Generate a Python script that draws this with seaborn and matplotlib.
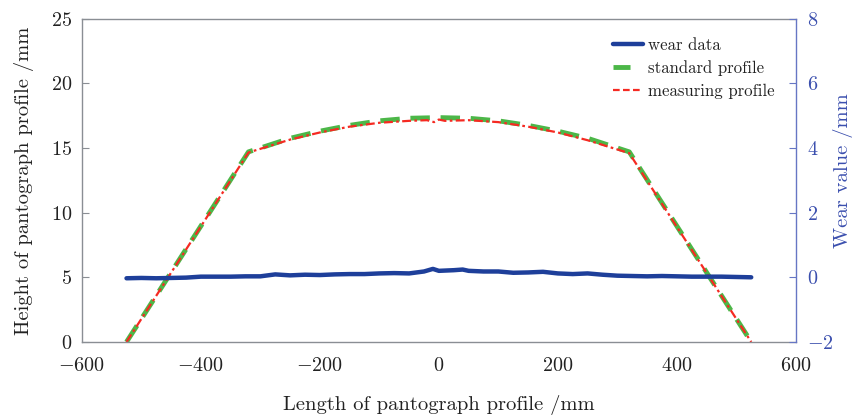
import numpy as np
import pandas as pd
import matplotlib
matplotlib.use("Agg")
import matplotlib.pyplot as plt
import seaborn as sns
from matplotlib.lines import Line2D

# ---- data ----
std_x = [-525, -320, -250, -200, -150, -100, -50, 0, 50, 100, 150, 200, 250, 320, 525]
std_h = [0, 14.7, 15.75, 16.3, 16.75, 17.1, 17.3, 17.35, 17.3, 17.1, 16.75, 16.3, 15.75, 14.7, 0]

meas_x = [-525, -320, -250, -200, -150, -100, -50, -20, -8, 0, 10, 50, 100, 150, 200, 250, 320, 525]
meas_h = [0, 14.65, 15.65, 16.2, 16.65, 16.95, 17.1, 17.15, 17.0, 17.2, 17.1, 17.15, 17.0, 16.65, 16.2, 15.6, 14.6, 0]

wear_x = [-525, -500, -475, -450, -425, -400, -375, -350, -325, -300, -275, -250, -225, -200,
          -175, -150, -125, -100, -75, -50, -25, -10, 0, 25, 40, 50, 75, 100, 125, 150, 175,
          200, 225, 250, 275, 300, 325, 350, 375, 400, 425, 450, 475, 500, 525]
wear_v = [-0.03, -0.02, -0.03, -0.02, -0.01, 0.02, 0.02, 0.02, 0.03, 0.03, 0.09, 0.06, 0.08, 0.07,
          0.09, 0.10, 0.10, 0.12, 0.13, 0.12, 0.18, 0.26, 0.20, 0.22, 0.24, 0.20, 0.18, 0.18, 0.14,
          0.15, 0.17, 0.12, 0.10, 0.12, 0.08, 0.05, 0.04, 0.03, 0.04, 0.03, 0.02, 0.02, 0.02, 0.01, 0.00]

x_ticks = [-600, -400, -200, 0, 200, 400, 600]
left_ticks = [0, 5, 10, 15, 20, 25]
right_ticks = [-2, 0, 2, 4, 6, 8]

# ---- style ----
sns.set_style("white")
plt.rcParams["font.family"] = ["cmr10", "DejaVu Serif"]
plt.rcParams["mathtext.fontset"] = "cm"
plt.rcParams["axes.formatter.use_mathtext"] = True
plt.rcParams["axes.unicode_minus"] = True

BLUE = "#1e3f9a"
AXBLUE = "#3b4fae"
SPBLUE = "#6676c4"
GREEN = "#4cb748"
RED = "#f52a22"
GREY = "#8a8e94"
TXT = "#222222"

fig = plt.figure(figsize=(8.53, 4.15), dpi=100)
ax = fig.add_axes([0.096, 0.176, 0.837, 0.779])
ax2 = ax.twinx()

df_std = pd.DataFrame({"x": std_x, "h": std_h})
df_meas = pd.DataFrame({"x": meas_x, "h": meas_h})
df_wear = pd.DataFrame({"x": wear_x, "v": wear_v})

sns.lineplot(data=df_wear, x="x", y="v", ax=ax2, color=BLUE, lw=3.2, sort=False,
             estimator=None, legend=False)
sns.lineplot(data=df_std, x="x", y="h", ax=ax, color=GREEN, lw=3.5, sort=False,
             estimator=None, legend=False)
ax.lines[-1].set_dashes([4, 2.2])
sns.lineplot(data=df_meas, x="x", y="h", ax=ax, color=RED, lw=1.6, sort=False,
             estimator=None, legend=False)
ax.lines[-1].set_dashes([4, 1.5, 1.2, 1.5])

ax.set_xlim(-600, 600)
ax.set_ylim(0, 25)
ax2.set_ylim(-2, 8)
ax.set_xticks(x_ticks)
ax.set_yticks(left_ticks)
ax2.set_yticks(right_ticks)

for s in ("top", "left", "bottom"):
    ax.spines[s].set_color(GREY)
    ax.spines[s].set_linewidth(1.0)
ax.spines["right"].set_visible(False)
ax2.spines["left"].set_visible(False)
ax2.spines["bottom"].set_visible(False)
ax2.spines["top"].set_visible(False)
ax2.spines["right"].set_color(SPBLUE)
ax2.spines["right"].set_linewidth(1.0)

ax.tick_params(axis="x", direction="in", length=5, width=0.8, color=GREY,
               labelsize=14.5, labelcolor=TXT, pad=11)
ax.tick_params(axis="y", direction="in", length=5, width=0.8, color=GREY,
               labelsize=14.5, labelcolor=TXT, pad=7)
ax2.tick_params(axis="y", direction="in", length=5, width=0.8, color=SPBLUE,
                labelcolor=AXBLUE, labelsize=14.5, pad=8)

ax.set_xlabel("Length of pantograph profile /mm", fontsize=14.8, color=TXT, labelpad=14)
ax.set_ylabel("Height of pantograph profile /mm", fontsize=14.8, color=TXT, labelpad=12)
ax2.set_ylabel("Wear value /mm", fontsize=14.8, color=AXBLUE)
ax2.yaxis.set_label_coords((843 - 82) / 714, 0.53)
ax2.yaxis.label.set_ha("center")
ax2.yaxis.label.set_va("center")

h1 = Line2D([], [], color=BLUE, lw=3.2)
h2 = Line2D([], [], color=GREEN, lw=3.5, dashes=[3.5, 5])
h3 = Line2D([], [], color=RED, lw=1.6, dashes=[3, 1.5])
leg = ax.legend([h1, h2, h3], ["wear data", "standard profile", "measuring profile"],
                loc="upper left", bbox_to_anchor=(0.744, 0.942), frameon=False, fontsize=12.1,
                handlelength=1.8, handletextpad=0.25, labelspacing=0.45, borderaxespad=0,
                borderpad=0)
for t in leg.get_texts():
    t.set_color(TXT)

fig.savefig("out.png", dpi=100)
